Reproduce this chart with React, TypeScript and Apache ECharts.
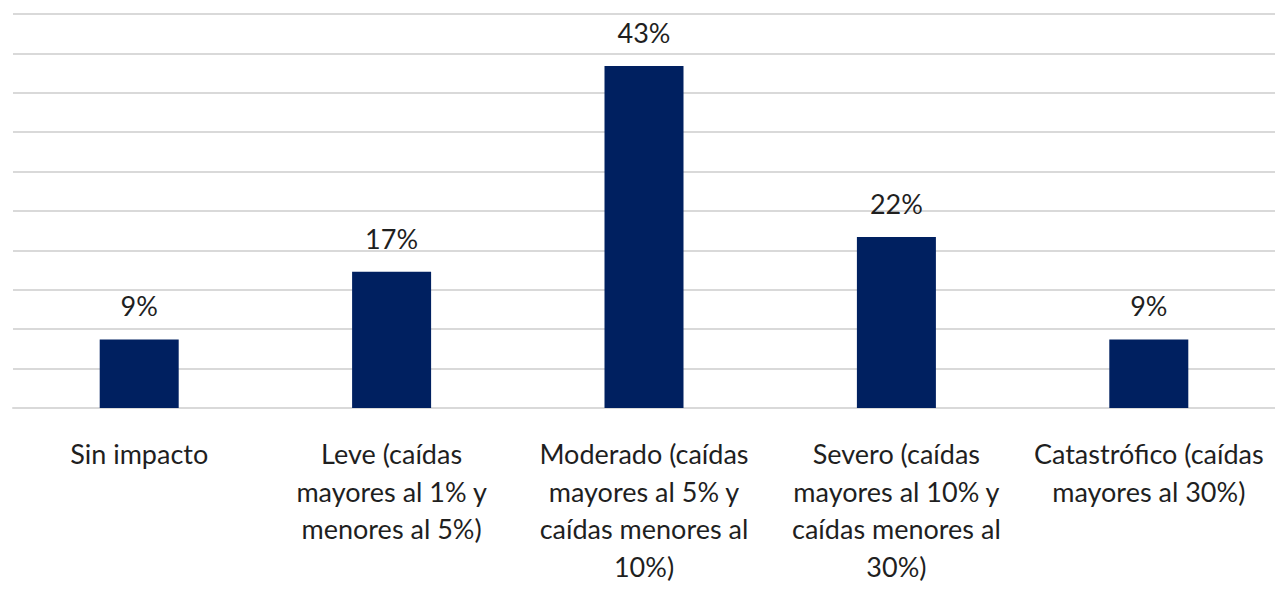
import React, { useEffect, useRef } from "react";
import * as echarts from "echarts";

const categories = [
  "Sin impacto",
  "Leve (caídas\nmayores al 1% y\nmenores al 5%)",
  "Moderado (caídas\nmayores al 5% y\ncaídas menores al\n10%)",
  "Severo (caídas\nmayores al 10% y\ncaídas menores al\n30%)",
  "Catastrófico (caídas\nmayores al 30%)",
];
const values = [8.7, 17.3, 43.4, 21.7, 8.7];

const FONT = "Lato, 'Noto Sans', sans-serif";

export default function App() {
  const ref = useRef<HTMLDivElement>(null);
  useEffect(() => {
    const chart = echarts.init(ref.current!, null, { renderer: "svg" });
    chart.setOption({
      animation: false,
      grid: { left: 13, right: -4, top: 14, bottom: 181, containLabel: false },
      xAxis: {
        type: "category",
        data: categories,
        axisLine: { show: true, lineStyle: { color: "#d9d9d9", width: 2 } },
        axisTick: { show: false },
        axisLabel: {
          interval: 0,
          color: "#1f1f1f",
          fontFamily: FONT,
          fontSize: 27,
          lineHeight: 37.5,
          margin: 27,
        },
      },
      yAxis: {
        type: "value",
        min: 0,
        max: 50,
        interval: 5,
        axisLabel: { show: false },
        axisLine: { show: false },
        axisTick: { show: false },
        splitLine: { lineStyle: { color: "#d9d9d9", width: 2 } },
      },
      series: [
        {
          type: "bar",
          data: values,
          barWidth: 79,
          itemStyle: { color: "#002060" },
          label: {
            show: true,
            position: "top",
            distance: 20,
            color: "#1f1f1f",
            fontFamily: FONT,
            fontSize: 27,
            formatter: (p: any) => Math.round(p.value) + "%",
          },
        },
      ],
    });
    return () => chart.dispose();
  }, []);
  return <div ref={ref} style={{ width: 1275, height: 589, position: "absolute", left: 0, top: 0 }} />;
}
